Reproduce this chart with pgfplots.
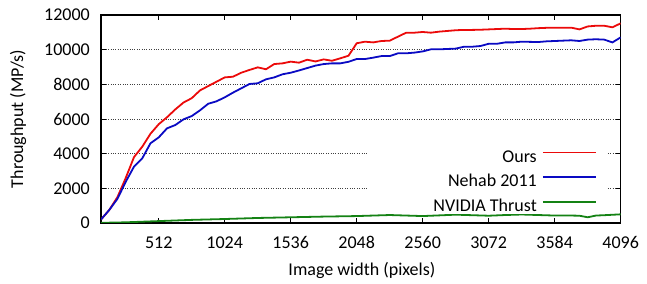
\documentclass[border=0pt]{standalone}
\usepackage{pgfplots}
\pgfplotsset{compat=1.18}
\usepackage{fontspec}
\setmainfont{Carlito}
\definecolor{cRed}{RGB}{235,10,10}
\definecolor{cBlue}{RGB}{10,10,195}
\definecolor{cGreen}{RGB}{20,130,20}
\begin{document}
\fontsize{18bp}{21bp}\selectfont
\begin{tikzpicture}
\useasboundingbox (0,0) rectangle (647bp,284bp);
\begin{axis}[
  at={(101bp,61bp)}, anchor=south west,
  scale only axis, width=519.7bp, height=208bp,
  xmin=64, xmax=4096, ymin=0, ymax=12000,
  xtick={512,1024,1536,2048,2560,3072,3584,4096},
  ytick={0,2000,4000,6000,8000,10000,12000},
  scaled ticks=false,
  /pgf/number format/1000 sep={},
  /pgf/number format/assume math mode=true,
  tick label style={font=\fontsize{18bp}{21bp}\selectfont},
  label style={font=\fontsize{18bp}{21bp}\selectfont},
  xticklabel style={anchor=center, inner sep=0pt, yshift=-19.7bp},
  yticklabel style={anchor=east, inner sep=0pt, xshift=-11bp},
  tick align=inside, tick pos=both,
  major tick length=5bp,
  every tick/.style={black, line width=0.9bp},
  axis line style={line width=1.2bp},
  ymajorgrids,
  major grid style={dotted, line width=0.9bp, black!75},
  xlabel={Image width (pixels)},
  ylabel={Throughput (MP/s)},
  xlabel style={at={(axis description cs:0.502,-0.229)}, anchor=center},
  ylabel style={at={(axis description cs:-0.1597,0.5)}, anchor=center},
  legend cell align=right,
  legend plot pos=right,
  legend style={at={(0.9736,0.399)}, anchor=north east, draw=none, fill=white,
    inner sep=0pt, row sep=0pt, column sep=0pt,
    nodes={inner sep=0pt}, font=\fontsize{18bp}{21bp}\selectfont},
  legend image code/.code={\path[draw=none,fill=none] (-6bp,-6bp) rectangle (64bp,6bp); \draw[#1, line width=1.8bp] (0bp,0bp) -- (53bp,0bp);},
]
\addplot[cRed, line width=1.8bp] coordinates {
(64,200)(128,750)(192,1500)(256,2600)(320,3800)(384,4400)(448,5150)(512,5700)
(576,6100)(640,6550)(704,6950)(768,7200)(832,7650)(896,7900)(960,8150)(1024,8400)
(1088,8440)(1152,8670)(1216,8830)(1280,8980)(1344,8870)(1408,9170)(1472,9210)(1536,9310)
(1600,9250)(1664,9420)(1728,9320)(1792,9440)(1856,9360)(1920,9500)(1984,9650)(2048,10370)
(2112,10460)(2176,10420)(2240,10500)(2304,10520)(2368,10750)(2432,10980)(2496,10980)(2560,11020)
(2624,10980)(2688,11040)(2752,11080)(2816,11120)(2880,11140)(2944,11140)(3008,11150)(3072,11170)
(3136,11190)(3200,11210)(3264,11190)(3328,11190)(3392,11210)(3456,11240)(3520,11260)(3584,11270)
(3648,11270)(3712,11270)(3776,11170)(3840,11340)(3904,11380)(3968,11380)(4032,11290)(4096,11520)
};
\addlegendentry{\makebox[170bp][r]{\rule[-2.5bp]{0pt}{24.5bp}Ours}}
\addplot[cBlue, line width=1.8bp] coordinates {
(64,200)(128,750)(192,1400)(256,2380)(320,3250)(384,3730)(448,4600)(512,4940)
(576,5460)(640,5650)(704,5980)(768,6170)(832,6500)(896,6880)(960,7020)(1024,7250)
(1088,7520)(1152,7770)(1216,8020)(1280,8060)(1344,8290)(1408,8400)(1472,8580)(1536,8670)
(1600,8800)(1664,8940)(1728,9080)(1792,9170)(1856,9210)(1920,9210)(1984,9300)(2048,9460)
(2112,9460)(2176,9540)(2240,9630)(2304,9630)(2368,9790)(2432,9790)(2496,9830)(2560,9900)
(2624,10020)(2688,10020)(2752,10040)(2816,10060)(2880,10170)(2944,10170)(3008,10210)(3072,10340)
(3136,10340)(3200,10420)(3264,10420)(3328,10460)(3392,10450)(3456,10440)(3520,10480)(3584,10500)
(3648,10520)(3712,10540)(3776,10500)(3840,10580)(3904,10600)(3968,10580)(4032,10420)(4096,10710)
};
\addlegendentry{\makebox[170bp][r]{\rule[-2.5bp]{0pt}{24.5bp}Nehab 2011}}
\addplot[cGreen, line width=1.8bp] coordinates {
(64,10)(256,40)(512,110)(768,180)(1024,230)(1280,290)(1536,330)(1792,370)(2048,400)
(2176,430)(2304,460)(2432,430)(2560,400)(2688,440)(2816,480)(2944,450)(3072,420)
(3200,460)(3328,490)(3456,460)(3584,430)(3712,430)(3776,420)(3840,330)(3904,430)
(3968,450)(4096,500)
};
\addlegendentry{\makebox[170bp][r]{\rule[-2.5bp]{0pt}{24.5bp}NVIDIA Thrust}}
\end{axis}
\end{tikzpicture}
\end{document}
